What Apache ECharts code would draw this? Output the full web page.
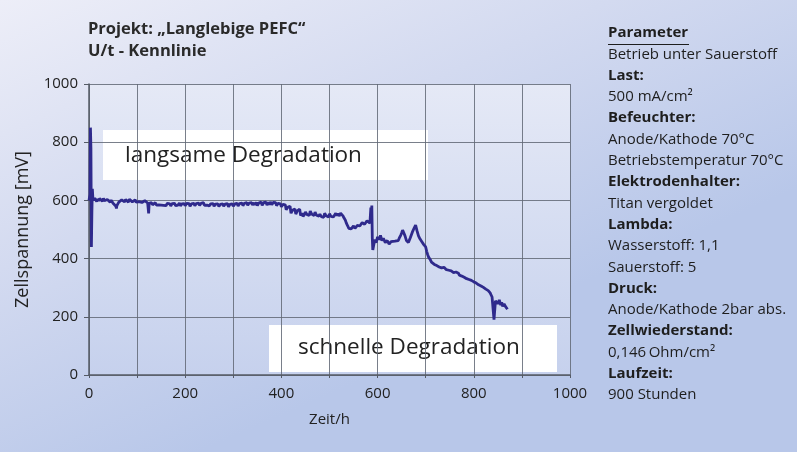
<!DOCTYPE html>
<html>
<head>
<meta charset="utf-8">
<script src="https://cdn.jsdelivr.net/npm/echarts@6/dist/echarts.min.js"></script>
<style>
  html, body { margin: 0; padding: 0; }
  #chart { width: 797px; height: 452px; }
</style>
</head>
<body>
<div id="chart"></div>
<script>
// Laufzeit in Stunden
const hours = [
  0, 2, 3, 4, 5, 6, 7, 8, 10, 12, 14, 16, 18, 20, 22, 24, 26, 28, 30, 32, 34, 36, 38, 40, 42, 44, 46, 48, 50, 52, 54, 56, 57, 58, 60, 62, 64, 66, 68, 70,
  72, 74, 76, 78, 80, 82, 84, 86, 88, 90, 92, 94, 96, 98, 100, 102, 104, 106, 108, 110, 112, 114, 116, 118, 120, 122, 123, 124, 125, 126, 128, 130,
  132, 134, 136, 138, 140, 143, 145, 148, 150, 153, 155, 158, 160, 163, 165, 168, 170, 173, 175, 178, 180, 183, 185, 188, 190, 193, 195, 198,
  200, 203, 205, 208, 210, 213, 215, 218, 220, 223, 225, 228, 230, 233, 235, 238, 240, 243, 245, 248, 250, 253, 255, 258, 260, 263, 265, 268,
  270, 273, 275, 278, 280, 283, 285, 288, 290, 293, 295, 298, 300, 303, 305, 308, 310, 313, 315, 318, 320, 323, 325, 328, 330, 333, 335, 338,
  340, 343, 345, 348, 350, 353, 355, 358, 360, 363, 365, 368, 370, 373, 375, 378, 380, 383, 385, 388, 390, 393, 395, 398,
  400, 403, 405, 408, 410, 413, 415, 418, 420, 423, 425, 428, 430, 433, 435, 438, 440, 443, 445, 448, 450, 453, 455, 458, 460, 463, 465, 468,
  470, 473, 475, 478, 480, 483, 485, 488, 490, 493, 495, 498, 500, 503, 505, 508, 510, 513, 515, 518, 520, 523, 525, 528, 530, 533, 535, 538,
  540, 543, 545, 548, 550, 553, 555, 558, 560, 563, 565, 568, 570, 573, 575, 578, 580, 582, 584, 586, 587, 588, 589, 590, 592, 594, 597,
  600, 603, 606, 609, 612, 616, 620, 624, 628, 632, 636, 640, 643, 645, 648, 650, 652, 654, 657, 660, 664, 668, 672, 676, 679, 682, 685, 688, 692, 696,
  700, 702, 704, 706, 708, 710, 712, 714, 716, 718, 720, 723, 725, 728, 730, 733, 735, 738, 740, 743, 745, 748, 750, 753, 755, 758, 760, 763, 765, 768,
  770, 773, 775, 778, 780, 783, 785, 788, 790, 793, 795, 798, 800, 803, 805, 808, 810, 813, 815, 818, 820, 823, 825, 828, 830, 832, 834, 836, 838,
  840, 842, 845, 848, 850, 853, 856, 858, 860, 863, 866, 868, 870
];
// Zellspannung in mV
const voltage = [
  600, 620, 850, 780, 440, 560, 640, 610, 600, 608, 603, 596, 605, 598, 606, 600, 603, 597, 607, 599, 604, 596, 603, 598, 600, 594, 601, 596, 590, 588, 584, 580, 572, 582, 588, 594, 598, 594, 602, 597,
  601, 595, 603, 597, 600, 594, 604, 598, 601, 595, 600, 596, 602, 594, 598, 590, 596, 591, 598, 593, 597, 590, 599, 593, 596, 591, 590, 555, 590, 594, 588, 592,
  585, 591, 586, 592, 584, 590, 585, 591, 584, 590, 583, 589, 582, 590, 584, 588, 581, 589, 583, 590, 582, 588, 584, 591, 581, 588, 583, 589,
  582, 590, 584, 589, 580, 588, 583, 590, 582, 589, 584, 591, 583, 590, 585, 592, 583, 589, 584, 590, 581, 588, 583, 589, 580, 587, 582, 588,
  579, 586, 581, 588, 580, 587, 582, 589, 578, 586, 581, 588, 580, 588, 583, 590, 581, 589, 584, 591, 582, 590, 585, 592, 583, 591, 586, 592,
  584, 592, 585, 593, 582, 591, 586, 594, 583, 592, 587, 594, 584, 593, 586, 595, 585, 593, 587, 592, 582, 590, 584, 588,
  578, 586, 580, 585, 568, 576, 572, 580, 556, 566, 561, 570, 553, 564, 558, 570, 548, 556, 545, 552, 560, 552, 558, 548, 563, 553, 556, 548,
  560, 549, 554, 546, 553, 544, 550, 542, 556, 547, 552, 543, 554, 545, 551, 543, 549, 556, 548, 555, 546, 556, 552, 547, 540, 532, 522, 512,
  504, 498, 502, 508, 512, 504, 508, 514, 520, 512, 516, 524, 528, 518, 522, 530, 532, 524, 522, 575, 540, 582, 470, 430, 425, 465, 455,
  475, 465, 480, 462, 470, 455, 462, 450, 458, 452, 460, 455, 462, 470, 480, 488, 498, 500, 478, 462, 455, 472, 490, 505, 515, 495, 478, 468, 458, 448, 440,
  425, 414, 405, 400, 395, 388, 382, 386, 380, 384, 376, 380, 371, 376, 368, 374, 370, 366, 362, 368, 360, 364, 358, 362, 352, 356, 354, 348, 350, 343,
  345, 340, 342, 336, 340, 331, 336, 328, 332, 325, 327, 320, 322, 316, 318, 310, 313, 306, 308, 301, 303, 295, 298, 290, 288, 282, 275, 268, 262,
  190, 255, 260, 245, 258, 240, 250, 236, 244, 235, 238, 226, 232
];
const xTicks = [0, 200, 400, 600, 800, 1000];
const yTicks = [0, 200, 400, 600, 800, 1000];

const titleLines = ['Projekt: \u201ELanglebige PEFC\u201C', 'U/t - Kennlinie'];
const paramLines = [
  ['Parameter', 'head'],
  ['Betrieb unter Sauerstoff', 'text'],
  ['Last:', 'bold'],
  ['500 mA/cm\u00B2', 'text'],
  ['Befeuchter:', 'bold'],
  ['Anode/Kathode 70\u00B0C', 'text'],
  ['Betriebstemperatur 70\u00B0C', 'text'],
  ['Elektrodenhalter:', 'bold'],
  ['Titan vergoldet', 'text'],
  ['Lambda:', 'bold'],
  ['Wasserstoff: 1,1', 'text'],
  ['Sauerstoff: 5', 'text'],
  ['Druck:', 'bold'],
  ['Anode/Kathode 2bar abs.', 'text'],
  ['Zellwiederstand:', 'bold'],
  ['0,146\u2009Ohm/cm\u00B2', 'text'],
  ['Laufzeit:', 'bold'],
  ['900 Stunden', 'text']
];
const noteSlow = 'langsame Degradation';
const noteFast = 'schnelle Degradation';

const FONT = '"Open Sans", "Noto Sans", sans-serif';
const chart = echarts.init(document.getElementById('chart'), null, { renderer: 'canvas' });

const graphics = [];
// Titel
titleLines.forEach((t, i) => {
  graphics.push({
    type: 'text', left: 88, top: 21 + i * 22, z: 10,
    style: { text: t, font: 'bold 16.5px ' + FONT, fill: '#2a2a2a' }
  });
});
// Parameterliste
paramLines.forEach((p, i) => {
  const isBold = p[1] !== 'text';
  graphics.push({
    type: 'text', left: 608, top: 25.5 + i * 21.3, z: 10,
    style: { text: p[0], font: (isBold ? 'bold ' : '') + '15px ' + FONT, fill: '#1e1e1e' }
  });
});
graphics.push({
  type: 'line', z: 10,
  shape: { x1: 608, y1: 44.5, x2: 689, y2: 44.5 },
  style: { stroke: '#1e1e1e', lineWidth: 1 }
});
// Hinweisfelder
graphics.push({
  type: 'group', left: 103, top: 130, z: 20,
  children: [
    { type: 'rect', shape: { x: 0, y: 0, width: 325, height: 50 }, style: { fill: '#ffffff' } },
    { type: 'text', x: 22, y: 26, style: { text: noteSlow, font: '22.5px ' + FONT, fill: '#222', textVerticalAlign: 'middle' } }
  ]
});
graphics.push({
  type: 'group', left: 269, top: 325, z: 20,
  children: [
    { type: 'rect', shape: { x: 0, y: 0, width: 288, height: 47 }, style: { fill: '#ffffff' } },
    { type: 'text', x: 29, y: 23, style: { text: noteFast, font: '22.5px ' + FONT, fill: '#222', textVerticalAlign: 'middle' } }
  ]
});

chart.setOption({
  backgroundColor: new echarts.graphic.LinearGradient(0, 0, 0.25, 1, [
    { offset: 0, color: '#edeef8' },
    { offset: 0.5, color: '#d3daf0' },
    { offset: 1, color: '#b8c7e9' }
  ]),
  animation: false,
  graphic: graphics,
  grid: {
    left: 89, right: 227, top: 84, bottom: 77,
    show: true,
    backgroundColor: new echarts.graphic.LinearGradient(0, 0, 0, 1, [
      { offset: 0, color: '#e5e9f6' },
      { offset: 1, color: '#c6d1ed' }
    ]),
    borderWidth: 0
  },
  xAxis: {
    type: 'value', min: 0, max: 1000, interval: 100,
    name: 'Zeit/h', nameLocation: 'middle', nameGap: 37,
    nameTextStyle: { fontFamily: FONT, fontSize: 15, color: '#222' },
    axisLine: { show: true, lineStyle: { color: '#555b66', width: 1.5 } },
    axisTick: { show: true, length: 3, lineStyle: { color: '#555b66' } },
    axisLabel: {
      fontFamily: FONT, fontSize: 15, color: '#222', margin: 11,
      formatter: v => (xTicks.indexOf(v) >= 0 ? String(v) : '')
    },
    splitLine: { show: true, lineStyle: { color: '#626876', width: 1, opacity: 0.85 } }
  },
  yAxis: {
    type: 'value', min: 0, max: 1000, interval: 200,
    name: 'Zellspannung [mV]', nameLocation: 'middle', nameGap: 57,
    nameTextStyle: { fontFamily: FONT, fontSize: 18, color: '#222' },
    axisLine: { show: true, lineStyle: { color: '#555b66', width: 1.5 } },
    axisTick: { show: true, length: 5, lineStyle: { color: '#555b66' } },
    axisLabel: {
      fontFamily: FONT, fontSize: 15, color: '#222', margin: 11,
      formatter: v => (yTicks.indexOf(v) >= 0 ? String(v) : '')
    },
    splitLine: { show: true, lineStyle: { color: '#626876', width: 1, opacity: 0.85 } }
  },
  series: [{
    type: 'line',
    data: hours.map((h, i) => [h, voltage[i]]),
    showSymbol: false,
    lineStyle: { color: '#2f2a8c', width: 2.8 },
    z: 5
  }]
});
</script>
</body>
</html>
